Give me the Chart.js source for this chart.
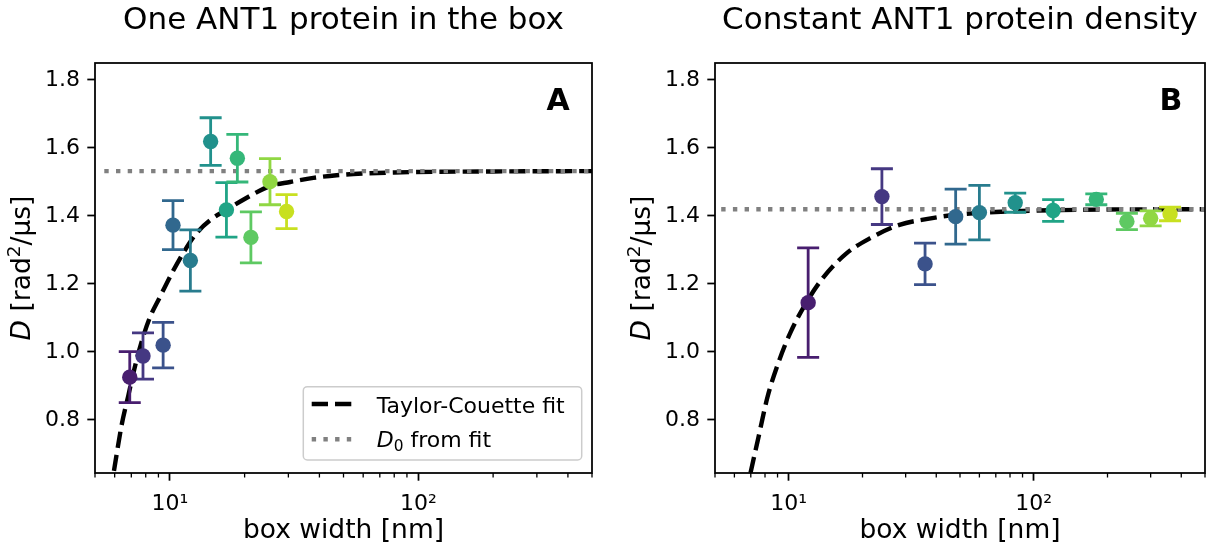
<!DOCTYPE html>
<html><head><meta charset="utf-8">
<script src="https://cdn.jsdelivr.net/npm/chart.js@4.4.1/dist/chart.umd.min.js"></script>
<style>
html,body{margin:0;padding:0;background:#fff;}
#wrap{position:relative;width:1215px;height:550px;overflow:hidden;background:#fff;}
canvas{position:absolute;top:0;}
</style></head><body>
<div id="wrap">
<canvas id="cA" width="607" height="550" style="left:0px;width:607px;height:550px"></canvas>
<canvas id="cB" width="608" height="550" style="left:607px;width:608px;height:550px"></canvas>
</div>
<script>
// ---------------- data ----------------
const titleA = "One ANT1 protein in the box";
const titleB = "Constant ANT1 protein density";
const xAxisLabel = "box width [nm]";
const legendLabels = ["Taylor-Couette fit", "from fit"];

// Panel A: one ANT1 protein in the box
const boxWidthA = [6.9, 7.8, 9.4, 10.3, 12.1, 14.6, 16.9, 18.7, 21.2, 25.3, 29.5];
const diffA     = [0.926, 0.988, 1.020, 1.373, 1.269, 1.619, 1.418, 1.570, 1.337, 1.501, 1.413];
const errA      = [0.075, 0.068, 0.067, 0.072, 0.090, 0.070, 0.080, 0.070, 0.075, 0.068, 0.050];

// Panel B: constant ANT1 protein density
const boxWidthB = [12, 24, 36, 48, 60, 84, 120, 180, 240, 300, 360];
const diffB     = [1.145, 1.457, 1.259, 1.398, 1.410, 1.439, 1.416, 1.449, 1.384, 1.393, 1.406];
const errB      = [0.161, 0.082, 0.061, 0.081, 0.080, 0.028, 0.032, 0.016, 0.024, 0.022, 0.020];

// Taylor-Couette fit curves
const fitAx = [5.96, 6.4, 6.8, 7.2, 7.7, 8.3, 9.1, 10.2, 11.3, 12.8, 15.0, 16.9, 20.0, 25.3, 30.5, 37.8, 46.9, 60, 80, 120, 200, 500];
const fitAy = [0.650, 0.785, 0.870, 0.950, 1.030, 1.100, 1.160, 1.232, 1.290, 1.349, 1.395, 1.418, 1.450, 1.488, 1.500, 1.512, 1.520, 1.525, 1.528, 1.530, 1.531, 1.532];
const fitBx = [6.98, 7.5, 8.2, 9.15, 10.2, 11.9, 13.9, 17.2, 21.4, 28.3, 38, 46, 60, 84, 120, 200, 500];
const fitBy = [0.644, 0.745, 0.869, 0.976, 1.060, 1.150, 1.221, 1.290, 1.334, 1.374, 1.393, 1.402, 1.409, 1.414, 1.417, 1.419, 1.420];

// D0 from fit (horizontal dotted lines)
const d0A = 1.532, d0B = 1.420;
const d0Ax = [5.45, 500], d0Bx = [5.3, 500];

// axes
const xMin = 5, xMax = 500, yMin = 0.644, yMax = 1.85;
const yTicks = [0.8, 1.0, 1.2, 1.4, 1.6, 1.8];
const xMajorTicks = [10, 100];
const xMinorTicks = [5, 6, 7, 8, 9, 20, 30, 40, 50, 60, 70, 80, 90, 200, 300, 400, 500];
const xTickLabels = {10: "10\u00B9", 100: "10\u00B2"};

// viridis colours, one per point
const pointColors = ['#481e6f','#453882','#3b528b','#31688e','#287c8e','#21918c','#20a486','#35b779','#5ec962','#90d743','#c8e020'];

// ---------------- drawing ----------------
const FONT = "'DejaVu Sans', sans-serif";
const allXTicks = xMinorTicks.concat(xMajorTicks).sort((a,b)=>a-b);

function drawYLabel(ctx, baseX, cy) {
  const fs = 26.5;
  const parts = [
    {t:'D', f:`italic ${fs}px ${FONT}`, dy:0},
    {t:' [rad', f:`${fs}px ${FONT}`, dy:0},
    {t:'2', f:`${(fs*0.7).toFixed(1)}px ${FONT}`, dy:-0.37*fs},
    {t:'/\u03BCs]', f:`${fs}px ${FONT}`, dy:0}
  ];
  ctx.save();
  ctx.translate(baseX, cy);
  ctx.rotate(-Math.PI/2);
  ctx.fillStyle = '#000';
  ctx.textBaseline = 'alphabetic';
  ctx.textAlign = 'left';
  let total = 0;
  parts.forEach(p => { ctx.font = p.f; p.w = ctx.measureText(p.t).width; total += p.w; });
  let x = -total/2;
  parts.forEach(p => { ctx.font = p.f; ctx.fillText(p.t, x, p.dy); x += p.w; });
  ctx.restore();
}

function drawLegend(ctx, a) {
  const L = a.right - 288.7, T = a.bottom - 86.3, R = a.right - 10.3, B = a.bottom - 13;
  ctx.save();
  ctx.beginPath();
  ctx.roundRect(L, T, R - L, B - T, 4);
  ctx.fillStyle = 'rgba(255,255,255,0.8)';
  ctx.fill();
  ctx.strokeStyle = '#cccccc';
  ctx.lineWidth = 1.5;
  ctx.stroke();
  const hx0 = L + 8.4, hx1 = L + 50;
  const y1 = T + 17.3, y2 = T + 52.6;
  ctx.lineCap = 'butt';
  ctx.beginPath(); ctx.setLineDash([16.3, 7]); ctx.strokeStyle = '#000'; ctx.lineWidth = 4.4;
  ctx.moveTo(hx0, y1); ctx.lineTo(hx1, y1); ctx.stroke();
  ctx.beginPath(); ctx.setLineDash([4.4, 7.3]); ctx.strokeStyle = '#808080'; ctx.lineWidth = 4.4;
  ctx.moveTo(hx0, y2); ctx.lineTo(hx1, y2); ctx.stroke();
  ctx.setLineDash([]);
  ctx.fillStyle = '#000';
  ctx.textBaseline = 'alphabetic';
  ctx.textAlign = 'left';
  const tx = L + 73.4;
  ctx.font = `22px ${FONT}`;
  ctx.fillText(legendLabels[0], tx, y1 + 8.5);
  ctx.font = `italic 22px ${FONT}`;
  ctx.fillText('D', tx, y2 + 7.7);
  let w = ctx.measureText('D').width;
  ctx.font = `15.4px ${FONT}`;
  ctx.fillText('0', tx + w, y2 + 7.7 + 3.5);
  w += ctx.measureText('0').width;
  ctx.font = `22px ${FONT}`;
  ctx.fillText(' ' + legendLabels[1], tx + w, y2 + 7.7);
  ctx.restore();
}

function makePanel(canvasId, o) {
  const decor = {
    id: 'decor_' + canvasId,
    beforeDatasetDraw(chart, args) {
      if (args.index !== 0) return;
      const {ctx, scales:{x, y}} = chart;
      ctx.save();
      ctx.lineWidth = 2.8;
      ctx.lineCap = 'butt';
      for (let i = 0; i < o.xs.length; i++) {
        const px = x.getPixelForValue(o.xs[i]);
        const t = y.getPixelForValue(o.ys[i] + o.errs[i]);
        const b = y.getPixelForValue(o.ys[i] - o.errs[i]);
        ctx.strokeStyle = pointColors[i];
        ctx.beginPath();
        ctx.moveTo(px, t); ctx.lineTo(px, b);
        ctx.moveTo(px - 11, t); ctx.lineTo(px + 11, t);
        ctx.moveTo(px - 11, b); ctx.lineTo(px + 11, b);
        ctx.stroke();
      }
      ctx.restore();
    },
    afterDraw(chart) {
      const {ctx, chartArea:a, scales:{x}} = chart;
      ctx.save();
      // minor ticks
      ctx.strokeStyle = '#000';
      ctx.lineWidth = 1.3;
      ctx.beginPath();
      xMinorTicks.forEach(v => {
        const px = x.getPixelForValue(v);
        ctx.moveTo(px, a.bottom); ctx.lineTo(px, a.bottom + 4.4);
      });
      ctx.stroke();
      // frame
      ctx.lineWidth = 1.76;
      ctx.strokeRect(a.left, a.top, a.right - a.left, a.bottom - a.top);
      // x label
      ctx.fillStyle = '#000';
      ctx.font = `26.5px ${FONT}`;
      ctx.textAlign = 'center';
      ctx.textBaseline = 'alphabetic';
      ctx.fillText(xAxisLabel, (a.left + a.right)/2, 538);
      // panel letter
      ctx.font = `bold 30px ${FONT}`;
      ctx.fillText(o.letter, a.right - 34, a.top + 47);
      ctx.restore();
      drawYLabel(ctx, a.left - 65, (a.top + a.bottom)/2);
      if (o.legend) drawLegend(ctx, a);
    }
  };

  return new Chart(document.getElementById(canvasId), {
    type: 'scatter',
    data: {
      datasets: [
        {
          label: 'data',
          data: o.xs.map((v, i) => ({x: v, y: o.ys[i]})),
          pointRadius: 7.7,
          pointBorderWidth: 0,
          pointBackgroundColor: pointColors,
          pointBorderColor: pointColors,
          showLine: false
        },
        {
          label: legendLabels[1],
          data: o.d0x.map(v => ({x: v, y: o.d0})),
          showLine: true,
          pointRadius: 0,
          borderColor: '#808080',
          borderWidth: 4.4,
          borderDash: [4.4, 7.3],
          clip: 0
        },
        {
          label: legendLabels[0],
          data: o.fx.map((v, i) => ({x: v, y: o.fy[i]})),
          showLine: true,
          pointRadius: 0,
          borderColor: '#000',
          borderWidth: 4.4,
          borderDash: [16.3, 7],
          cubicInterpolationMode: 'monotone',
          clip: 0
        }
      ]
    },
    options: {
      responsive: false,
      animation: false,
      devicePixelRatio: 1,
      events: [],
      layout: { autoPadding: false, padding: {left: 0, top: 0, right: o.padRight, bottom: 0} },
      plugins: {
        legend: { display: false },
        tooltip: { enabled: false },
        title: {
          display: true, text: o.title, color: '#000', fullSize: false,
          font: {family: FONT, size: 31, weight: 'normal', lineHeight: 1.2},
          padding: {top: 2, bottom: 23.8}
        }
      },
      scales: {
        x: {
          type: 'logarithmic', min: xMin, max: xMax, bounds: 'data',
          afterBuildTicks: s => { s.ticks = allXTicks.map(v => ({value: v, major: xMajorTicks.includes(v)})); },
          ticks: {
            autoSkip: false, maxRotation: 0, minRotation: 0, padding: 10,
            font: {family: FONT, size: 22}, color: '#000',
            callback: v => xTickLabels[v] || ''
          },
          grid: {
            drawOnChartArea: false, drawTicks: true, tickLength: 7.7, tickWidth: 1.76,
            tickColor: c => (c.tick && c.tick.major) ? '#000' : 'rgba(0,0,0,0)'
          },
          border: { display: false },
          afterFit: s => { s.height = 77; }
        },
        y: {
          type: 'linear', min: yMin, max: yMax, bounds: 'data',
          afterBuildTicks: s => { s.ticks = yTicks.map(v => ({value: v})); },
          ticks: {
            padding: 7.3, font: {family: FONT, size: 22}, color: '#000',
            callback: v => Number(v).toFixed(1)
          },
          grid: { drawOnChartArea: false, drawTicks: true, tickLength: 7.7, tickWidth: 1.76, tickColor: '#000' },
          border: { display: false },
          afterFit: s => { s.width = o.yAxisWidth; }
        }
      }
    },
    plugins: [decor]
  });
}

makePanel('cA', {
  title: titleA, letter: 'A', legend: true,
  xs: boxWidthA, ys: diffA, errs: errA,
  fx: fitAx, fy: fitAy, d0: d0A, d0x: d0Ax,
  yAxisWidth: 95, padRight: 15
});
makePanel('cB', {
  title: titleB, letter: 'B', legend: false,
  xs: boxWidthB, ys: diffB, errs: errB,
  fx: fitBx, fy: fitBy, d0: d0B, d0x: d0Bx,
  yAxisWidth: 108, padRight: 4
});
</script>
</body></html>
